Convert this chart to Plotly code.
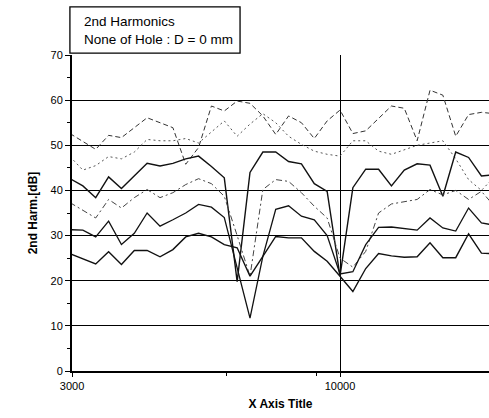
import plotly.graph_objects as go

# 1/12-octave measurement frequencies (Hz)
freq = [2973, 3150, 3337, 3536, 3746, 3969, 4204, 4455, 4720, 5000, 5297, 5612,
        5946, 6300, 6674, 7071, 7492, 7937, 8409, 8909, 9439, 10000, 10595, 11225,
        11892, 12600, 13348, 14142, 14983, 15874, 16818, 17818, 18877, 20000]

# 2nd harmonic levels (dB) for each measurement channel
h_top = [52.6, 50.8, 49.1, 52.2, 51.7, 53.9, 56.1, 55.0, 53.9, 45.8, 49.5, 58.7,
         57.6, 59.8, 59.3, 56.5, 52.4, 56.5, 55.0, 51.5, 55.4, 57.8, 52.6, 53.2,
         56.0, 58.7, 58.2, 51.0, 62.2, 61.1, 52.0, 56.8, 57.3, 57.0]
h_dot = [47.5, 44.5, 45.5, 47.5, 47.0, 48.5, 51.3, 51.0, 51.0, 51.5, 50.5, 53.0,
         55.4, 52.0, 54.7, 57.0, 55.0, 52.0, 50.2, 48.7, 48.0, 47.6, 51.0, 51.0,
         48.7, 48.0, 49.0, 50.0, 50.5, 51.0, 47.0, 42.4, 40.0, 43.0]
h_mid = [42.6, 41.0, 38.4, 43.0, 40.4, 43.3, 46.0, 45.4, 46.0, 47.0, 47.6, 45.3,
         42.8, 19.8, 44.0, 48.5, 48.5, 46.4, 45.9, 41.5, 39.8, 21.0, 40.6, 44.7,
         44.7, 41.0, 44.5, 45.9, 45.6, 38.7, 48.5, 47.3, 43.2, 43.5]
h_dash = [37.3, 35.5, 33.9, 38.0, 36.1, 38.4, 40.2, 38.4, 39.5, 41.3, 42.6, 41.5,
          38.7, 30.0, 21.0, 40.2, 42.4, 42.0, 39.5, 36.5, 33.9, 25.0, 23.0, 26.5,
          35.0, 37.0, 37.5, 38.0, 40.2, 39.0, 40.0, 38.0, 39.8, 36.5]
h_low = [31.3, 31.2, 29.7, 33.2, 28.0, 30.5, 35.0, 32.1, 33.5, 35.0, 36.9, 36.3,
         34.0, 23.0, 11.7, 25.4, 35.8, 36.6, 34.3, 33.5, 30.0, 21.5, 22.0, 28.0,
         31.8, 31.9, 31.5, 31.2, 33.9, 31.7, 31.0, 36.1, 32.8, 32.3]
h_base = [26.0, 24.8, 23.7, 26.4, 23.6, 26.7, 26.7, 25.3, 26.9, 29.7, 30.5, 29.7,
          28.0, 27.3, 21.0, 25.4, 29.8, 29.5, 29.5, 26.5, 24.3, 21.0, 17.6, 22.7,
          26.0, 25.5, 25.2, 25.3, 28.4, 25.1, 25.1, 30.4, 26.1, 26.0]

y_ticks = [0, 10, 20, 30, 40, 50, 60, 70]
x_ticks = [3000, 10000]
x_tick_text = ["3000", "10000"]

series = [
    (h_top, dict(color="#333333", width=1.0, dash="5px,3px")),
    (h_dot, dict(color="#555555", width=1.0, dash="2px,3px")),
    (h_mid, dict(color="#111111", width=1.4)),
    (h_dash, dict(color="#444444", width=1.0, dash="6px,3px,2px,3px")),
    (h_low, dict(color="#111111", width=1.3)),
    (h_base, dict(color="#111111", width=1.4)),
]

fig = go.Figure()
for vals, line in series:
    fig.add_trace(go.Scatter(x=freq, y=vals, mode="lines", line=line,
                             showlegend=False, hoverinfo="skip"))

font_family = "Liberation Sans, Arial, sans-serif"

fig.update_layout(
    width=489, height=418,
    margin=dict(l=72, r=0, t=55, b=47),
    paper_bgcolor="white", plot_bgcolor="white",
    font=dict(family=font_family, size=11, color="#000"),
    xaxis=dict(
        type="log", range=[3.4771, 4.2907],
        tickvals=x_ticks, ticktext=x_tick_text,
        showgrid=True, gridcolor="#000", gridwidth=1.2,
        ticks="outside", ticklen=4, tickwidth=1.2, tickcolor="#000",
        showline=True, linecolor="#000", linewidth=1.5,
        zeroline=False, tickfont=dict(size=11, color="#000"),
        title=dict(text="<b>X Axis Title</b>", font=dict(size=12, color="#000"),
                   standoff=9),
        minor=dict(tickvals=[6000, 9000], ticks="outside", ticklen=3,
                   tickcolor="#000", showgrid=False),
    ),
    yaxis=dict(
        range=[0, 70], tickvals=y_ticks,
        showgrid=True, gridcolor="#000", gridwidth=1.3,
        ticks="outside", ticklen=5, tickwidth=1.3, tickcolor="#000",
        showline=True, linecolor="#000", linewidth=2,
        zeroline=False, tickfont=dict(size=11, color="#000"),
        title=dict(text="<b>2nd Harm.[dB]</b>", font=dict(size=12, color="#000"),
                   standoff=10),
        minor=dict(dtick=5, ticks="outside", ticklen=3, tickcolor="#000",
                   showgrid=False),
    ),
    shapes=[dict(
        type="rect", xref="paper", yref="paper",
        x0=-0.005, x1=0.403, y0=1.006, y1=1.152,
        line=dict(color="#000", width=1.3), fillcolor="white", layer="above",
    )],
    annotations=[dict(
        xref="paper", yref="paper", x=0.024, y=1.079, xanchor="left", yanchor="middle",
        text="2nd Harmonics<br>None of Hole : D = 0 mm", align="left",
        showarrow=False, font=dict(size=13.5, color="#000", family=font_family),
    )],
)

fig.write_html("out.html")
